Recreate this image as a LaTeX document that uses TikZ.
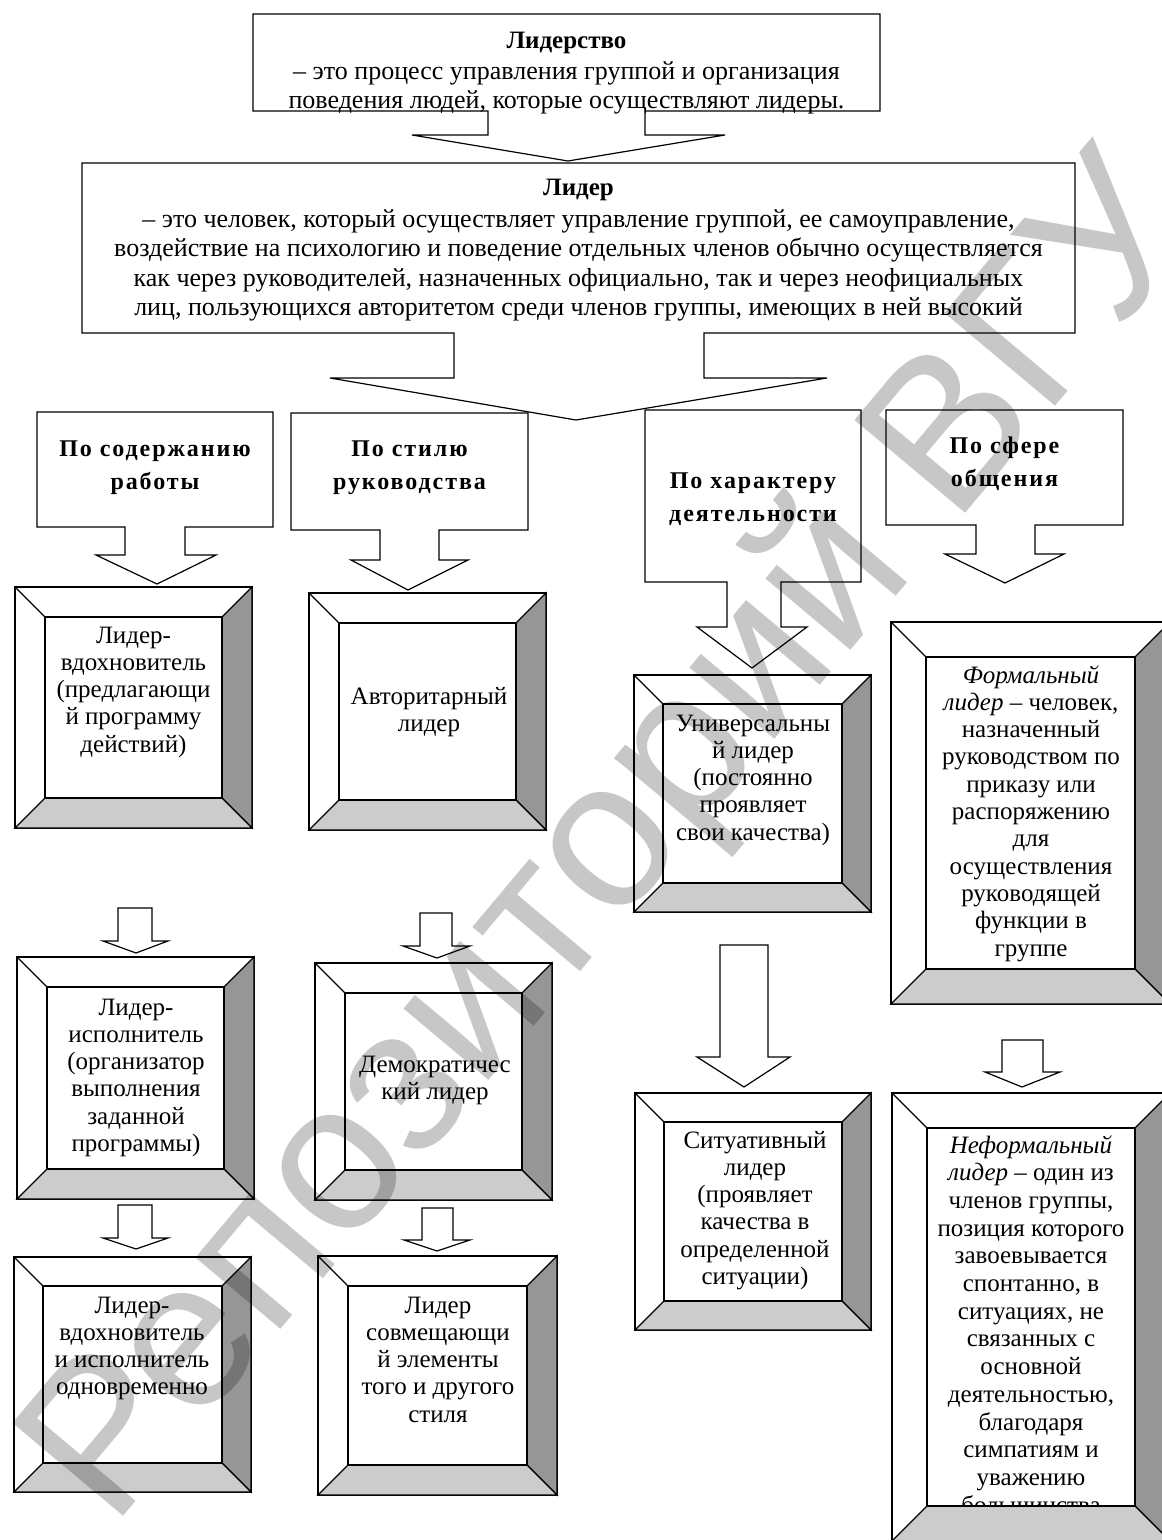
\documentclass[tikz,border=0pt]{standalone}
\usepackage{fontspec}
\setmainfont{Liberation Serif}
\newfontfamily\headfont{Liberation Serif}[LetterSpace=8]
\newfontfamily\markfont{Liberation Sans}
\definecolor{faceDark}{HTML}{969696}
\definecolor{faceLight}{HTML}{CCCCCC}

% centred lines whose baseline is the first line's
\newcommand\stack[1]{\begin{tabular}[t]{@{}c@{}}#1\end{tabular}}

\tikzset{
  outline/.style={draw=black, line width=1.2pt, fill=white, line join=miter},
  edge/.style={draw=black, line width=1.2pt},
  lead/.style={inner sep=0pt, anchor=base, font=\fontsize{26}{29.6}\selectfont},
  leadtitle/.style={inner sep=0pt, anchor=base, font=\bfseries\fontsize{25}{29}\selectfont},
  head/.style={inner sep=0pt, anchor=base, font=\headfont\bfseries\fontsize{24}{33}\selectfont},
  body/.style={inner sep=0pt, anchor=base, font=\fontsize{25}{27.3}\selectfont},
  longbody/.style={body, font=\fontsize{25}{27.7}\selectfont},
}

% bevelled frame: x1, y1, x2, y2, bevel width
\newcommand\bevelframe[5]{%
  \draw[outline] (#1,#2) rectangle (#3,#4);
  \draw[outline, fill=faceDark] (#3,#2) -- (#3,#4) -- (#3-#5,#4-#5) -- (#3-#5,#2+#5) -- cycle;
  \draw[outline, fill=faceLight] (#1,#4) -- (#3,#4) -- (#3-#5,#4-#5) -- (#1+#5,#4-#5) -- cycle;
  \draw[edge] (#1,#2) -- (#1+#5,#2+#5);
  \draw[edge] (#1+#5,#2+#5) rectangle (#3-#5,#4-#5);
}

% hollow down arrow: stem left, stem right, stem top, wing level, wing left, wing right, tip x, tip y
\newcommand\blockdown[8]{%
  \draw[outline] (#1,#3) -- (#2,#3) -- (#2,#4) -- (#6,#4) -- (#7,#8) -- (#5,#4) -- (#1,#4) -- cycle;
}

\begin{document}
\begin{tikzpicture}[x=1pt, y=-1pt]
\useasboundingbox (0,0) rectangle (1162,1540);
\fill[white] (0,0) rectangle (1162,1540);

% ---- definition of leadership ----
\draw[outline] (253,14) -- (880,14) -- (880,111) -- (645,111) -- (645,135) -- (725,135)
  -- (568,161) -- (412,135) -- (488,135) -- (488,111) -- (253,111) -- cycle;
\node[leadtitle] (leadershipTitle) at (566.5,48) {Лидерство};
\node[lead] (leadershipText) at (566.5,79) {\stack{– это процесс управления группой и организация\\
  поведения людей, которые осуществляют лидеры.}};

% ---- definition of leader ----
\draw[outline] (82,163) -- (1075,163) -- (1075,333) -- (704,333) -- (704,378) -- (827,378)
  -- (576,420) -- (330,378) -- (454,378) -- (454,333) -- (82,333) -- cycle;
\node[leadtitle] (leaderTitle) at (578.5,195) {Лидер};
\node[lead] (leaderText) at (578.5,227) {\stack{– это человек, который осуществляет управление группой, ее самоуправление,\\
  воздействие на психологию и поведение отдельных членов обычно осуществляется\\
  как через руководителей, назначенных официально, так и через неофициальных\\
  лиц, пользующихся авторитетом среди членов группы, имеющих в ней высокий}};

% ---- classification headings ----
\draw[outline] (37,412) -- (273,412) -- (273,527) -- (185,527) -- (185,555) -- (216,555)
  -- (157,584) -- (96,555) -- (125,555) -- (125,527) -- (37,527) -- cycle;
\node[head] (byContent) at (155,456) {\stack{По содержанию\\работы}};

\draw[outline] (291,413) -- (528,413) -- (528,530) -- (439,530) -- (439,560) -- (468,560)
  -- (408,590) -- (351,560) -- (380,560) -- (380,530) -- (291,530) -- cycle;
\node[head] (byStyle) at (409.5,456) {\stack{По стилю\\руководства}};

\draw[outline] (645,410) -- (861,410) -- (861,582) -- (781,582) -- (781,627) -- (807,627)
  -- (752,668) -- (697,627) -- (727,627) -- (727,582) -- (645,582) -- cycle;
\node[head] (byActivity) at (753,488) {\stack{По характеру\\деятельности}};

\draw[outline] (886,410) -- (1123,410) -- (1123,525) -- (1035,525) -- (1035,554) -- (1064,554)
  -- (1005,583) -- (945,554) -- (976,554) -- (976,525) -- (886,525) -- cycle;
\node[head] (bySphere) at (1004.5,453) {\stack{По сфере\\общения}};

% ---- column 1: by content of work ----
\bevelframe{15}{587}{252}{828}{30}
\node[body] (inspirer) at (133.5,643) {\stack{Лидер-\\вдохновитель\\(предлагающи\\й программу\\действий)}};
\blockdown{118}{152}{908}{941}{103}{168}{136}{953}
\bevelframe{17}{957}{254}{1199}{30}
\node[body] (executor) at (136,1015) {\stack{Лидер-\\исполнитель\\(организатор\\выполнения\\заданной\\программы)}};
\blockdown{118}{152}{1205}{1238}{103}{168}{136}{1249}
\bevelframe{14}{1257}{251}{1492}{29}
\node[body] (both) at (132,1313) {\stack{Лидер-\\вдохновитель\\и исполнитель\\одновременно}};

% ---- column 2: by style of management ----
\bevelframe{309}{593}{546}{830}{30}
\node[body] (authoritarian) at (429,704) {\stack{Авторитарный\\лидер}};
\blockdown{420}{452}{913}{946}{403}{470}{437}{958}
\bevelframe{315}{963}{552}{1200}{30}
\node[body] (democratic) at (435,1072) {\stack{Демократичес\\кий лидер}};
\blockdown{422}{453}{1208}{1240}{404}{470}{437}{1251}
\bevelframe{318}{1256}{557}{1495}{30}
\node[body] (mixed) at (438,1313) {\stack{Лидер\\совмещающи\\й элементы\\того и другого\\стиля}};

% ---- column 3: by character of activity ----
\bevelframe{634}{675}{871}{912}{29}
\node[body] (universal) at (753,731) {\stack{Универсальны\\й лидер\\(постоянно\\проявляет\\свои качества)}};
\blockdown{720}{768}{945}{1057}{697}{790}{744}{1087}
\bevelframe{635}{1093}{871}{1330}{29}
\node[body] (situational) at (755,1148) {\stack{Ситуативный\\лидер\\(проявляет\\качества в\\определенной\\ситуации)}};

% ---- column 4: by sphere of communication ----
\bevelframe{891}{622}{1170}{1004}{35}
\node[body] (formal) at (1031,683) {\stack{\textit{Формальный}\\\textit{лидер} – человек,\\назначенный\\руководством по\\приказу или\\распоряжению\\для\\осуществления\\руководящей\\функции в\\группе}};
\blockdown{1002}{1043}{1040}{1072}{985}{1060}{1022}{1087}
\bevelframe{892}{1093}{1170}{1541}{35}
\begin{scope}
  \clip (927,1128) rectangle (1135,1506);
  \node[longbody] (informal) at (1031,1153) {\stack{\textit{Неформальный}\\\textit{лидер} – один из\\членов группы,\\позиция которого\\завоевывается\\спонтанно, в\\ситуациях, не\\связанных с\\основной\\деятельностью,\\благодаря\\симпатиям и\\уважению\\большинства}};
\end{scope}

% ---- repository mark ----
\node[rotate=50, anchor=base west, inner sep=0pt, font=\markfont\fontsize{210}{210}\selectfont,
  text=black, text opacity=0.22] (mark) at (112,1530) {Репозиторий ВГУ};
\end{tikzpicture}
\end{document}
